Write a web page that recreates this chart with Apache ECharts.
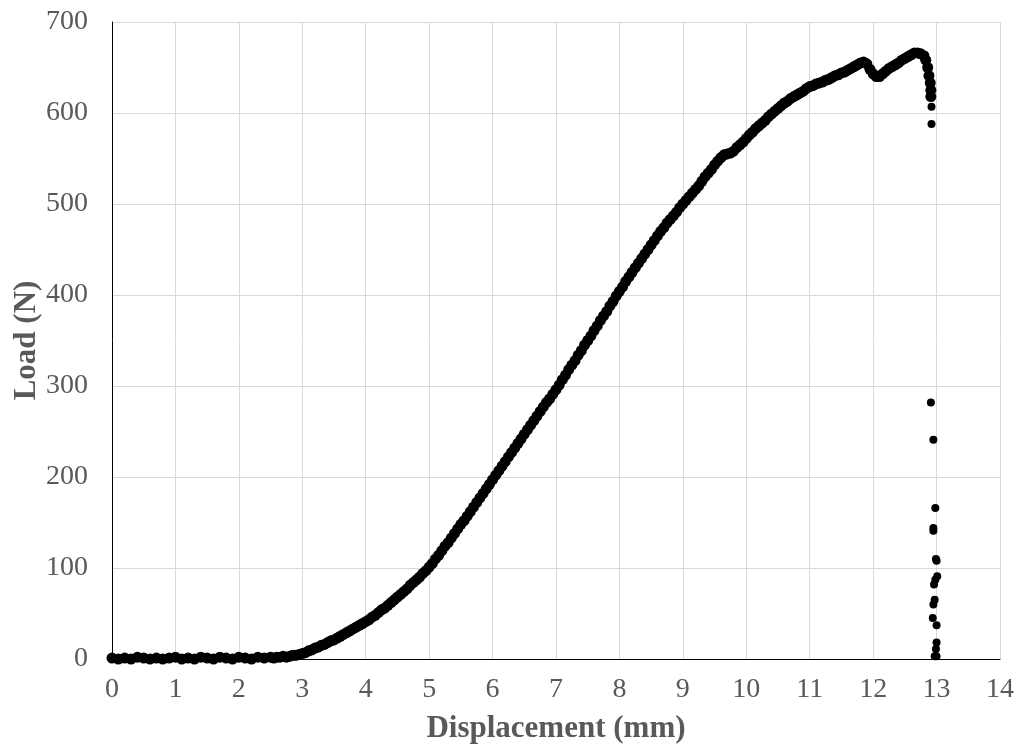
<!DOCTYPE html>
<html>
<head>
<meta charset="utf-8">
<title>Load - Displacement</title>
<script src="https://cdn.jsdelivr.net/npm/echarts/dist/echarts.min.js"></script>
<style>
  html, body { margin: 0; padding: 0; background: #fff; }
  #chart { width: 1023px; height: 753px; }
</style>
</head>
<body>
<div id="chart"></div>
<script>
// toe region, load stays around zero
var toeDisp = [0,0.1,0.2,0.3,0.4,0.5,0.6,0.7,0.8,0.9,1.0,1.1,1.2,1.3,1.4,1.5,1.6,1.7,1.8,1.9,2.0,2.1,2.2,2.3,2.4,2.5];
var toeLoad = [1,0,1,0,2,1,0,1,0,1,2,0,1,0,2,1,0,2,1,0,2,1,0,2,1,2];

// rising part, 2.55 - 9.0 mm
var riseDisp = [2.55,2.6,2.65,2.7,2.75,2.8,2.85,2.9,2.95,3.0,
  3.05,3.1,3.15,3.2,3.25,3.3,3.35,3.4,3.45,3.5,
  3.55,3.6,3.65,3.7,3.75,3.8,3.85,3.9,3.95,4.0,
  4.05,4.1,4.15,4.2,4.25,4.3,4.35,4.4,4.45,4.5,
  4.55,4.6,4.65,4.7,4.75,4.8,4.85,4.9,4.95,5.0,
  5.05,5.1,5.15,5.2,5.25,5.3,5.35,5.4,5.45,5.5,
  5.55,5.6,5.65,5.7,5.75,5.8,5.85,5.9,5.95,6.0,
  6.05,6.1,6.15,6.2,6.25,6.3,6.35,6.4,6.45,6.5,
  6.55,6.6,6.65,6.7,6.75,6.8,6.85,6.9,6.95,7.0,
  7.05,7.1,7.15,7.2,7.25,7.3,7.35,7.4,7.45,7.5,
  7.55,7.6,7.65,7.7,7.75,7.8,7.85,7.9,7.95,8.0,
  8.05,8.1,8.15,8.2,8.25,8.3,8.35,8.4,8.45,8.5,
  8.55,8.6,8.65,8.7,8.75,8.8,8.85,8.9,8.95,9.0];
var riseLoad = [1,2,2,3,2,3,4,4,5,6,
  7,9,10,12,13,15,16,18,20,21,
  23,25,27,29,31,33,35,37,39,41,
  43,46,48,51,54,56,59,62,65,68,
  71,74,77,81,84,87,90,94,97,101,
  105,110,114,119,124,128,133,138,143,148,
  152,157,162,167,172,177,182,187,192,197,
  202,207,212,217,222,227,232,237,242,247,
  252,257,262,267,272,277,282,286,291,296,
  301,307,312,318,323,328,334,339,345,350,
  355,361,366,372,377,382,388,393,399,404,
  409,415,420,425,430,435,440,445,450,455,
  460,465,470,474,479,483,487,491,496,500];

// upper part up to the peak and the start of the drop
var topDisp = [9.05,9.1,9.15,9.2,9.25,9.3,9.35,9.4,9.45,9.5,
  9.55,9.6,9.65,9.7,9.75,9.8,9.85,9.9,9.95,10.0,
  10.05,10.1,10.15,10.2,10.25,10.3,10.35,10.4,10.45,10.5,
  10.55,10.6,10.65,10.7,10.75,10.8,10.85,10.9,10.95,11.0,
  11.05,11.1,11.15,11.2,11.25,11.3,11.35,11.4,11.45,11.5,
  11.55,11.6,11.65,11.7,11.75,11.8,11.85,11.9,11.95,12.0,
  12.05,12.1,12.15,12.2,12.25,12.3,12.35,12.4,12.45,12.5,
  12.55,12.6,12.65,12.7,12.75,12.8,12.83,12.86,12.88,12.9,
  12.91,12.91];
var topLoad = [504,508,512,516,520,525,530,534,538,543,
  547,551,554,555,556,558,562,565,568,572,
  576,579,583,586,589,592,596,599,602,605,
  608,611,613,616,618,620,622,624,627,629,
  630,632,633,634,636,637,639,641,642,644,
  645,647,649,651,653,655,656,654,648,643,
  640,640,643,646,649,651,653,655,658,660,
  662,664,666,666,665,663,658,650,641,633,
  625,618];

// scattered points after failure
var failDisp = [12.92,12.92,12.91,12.95,12.98,12.95,12.95,12.99,13.0,13.01,12.98,12.96,12.97,12.95,12.94,13.0,13.0,12.99,12.97,13.0];
var failLoad = [607,588,282,241,166,141,144,110,108,91,87,82,65,60,45,37,18,11,3,3];

var xTicks = [0, 14, 1];
var yTicks = [0, 700, 100];

function pairs(xs, ys) {
  var out = [];
  for (var i = 0; i < xs.length; i++) out.push([xs[i], ys[i]]);
  return out;
}

var curveData = pairs(toeDisp, toeLoad)
  .concat(pairs(riseDisp, riseLoad))
  .concat(pairs(topDisp, topLoad));
var failData = pairs(failDisp, failLoad);

var serif = '"Liberation Serif", "DejaVu Serif", serif';
var grey = '#595959';

var chart = echarts.init(document.getElementById('chart'));
var option = {
  backgroundColor: '#fff',
  animation: false,
  grid: { left: 112, right: 23, top: 22, bottom: 94, outerBoundsMode: 'none', containLabel: false },
  xAxis: {
    type: 'value',
    min: xTicks[0],
    max: xTicks[1],
    interval: xTicks[2],
    name: 'Displacement (mm)',
    nameLocation: 'middle',
    nameGap: 54,
    nameMoveOverlap: false,
    nameTextStyle: { fontFamily: serif, fontSize: 31, fontWeight: 'bold', color: grey },
    axisLine: { show: true, onZero: false, lineStyle: { color: '#000', width: 1 } },
    axisTick: { show: false },
    axisLabel: { fontFamily: serif, fontSize: 28, color: grey, margin: 17 },
    splitLine: { show: true, lineStyle: { color: '#d9d9d9', width: 1 } }
  },
  yAxis: {
    type: 'value',
    min: yTicks[0],
    max: yTicks[1],
    interval: yTicks[2],
    name: 'Load (N)',
    nameLocation: 'middle',
    nameGap: 70,
    nameMoveOverlap: false,
    nameTextStyle: { fontFamily: serif, fontSize: 31, fontWeight: 'bold', color: grey },
    axisLine: { show: true, onZero: false, lineStyle: { color: '#000', width: 1 } },
    axisTick: { show: false },
    axisLabel: { fontFamily: serif, fontSize: 28, color: grey, margin: 24 },
    splitLine: { show: true, lineStyle: { color: '#d9d9d9', width: 1 } }
  },
  series: [
    {
      name: 'curve',
      type: 'scatter',
      symbol: 'circle',
      symbolSize: 11,
      itemStyle: { color: '#000', opacity: 1 },
      data: curveData
    },
    {
      name: 'failure',
      type: 'scatter',
      symbol: 'circle',
      symbolSize: 8,
      itemStyle: { color: '#000', opacity: 1 },
      data: failData
    }
  ]
};
chart.setOption(option);
</script>
</body>
</html>
